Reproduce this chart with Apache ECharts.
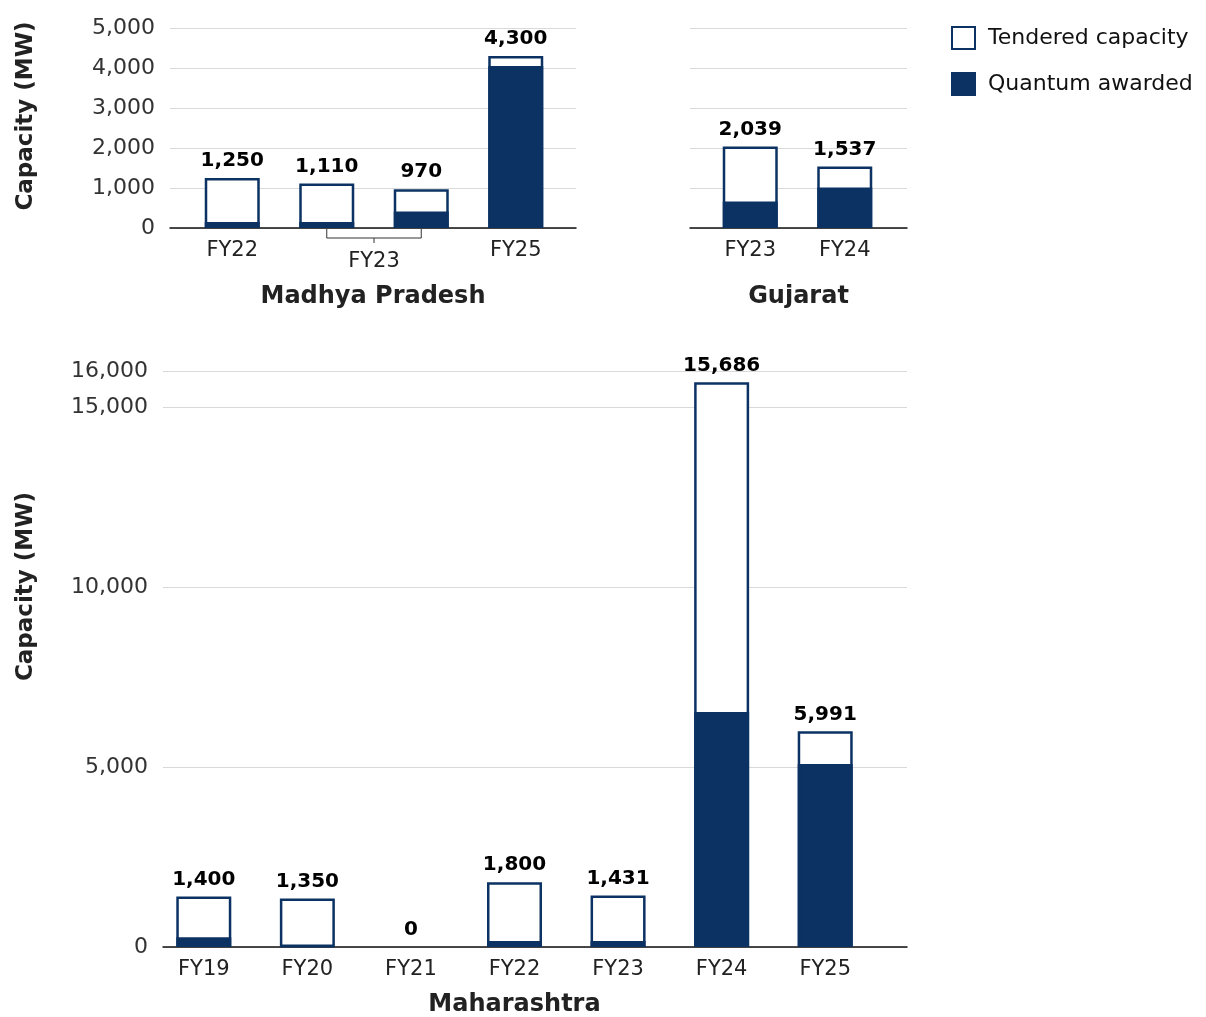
<!DOCTYPE html>
<html>
<head>
<meta charset="utf-8">
<script src="https://cdn.jsdelivr.net/npm/echarts@6/dist/echarts.min.js"></script>
<style>
  html, body { margin: 0; padding: 0; background: #fff; }
  #chart { width: 1206px; height: 1017px; }
</style>
</head>
<body>
<div id="chart"></div>
<script>
  // Madhya Pradesh
  const mpCategories = ['FY22', 'FY23', 'FY23', 'FY25'];
  const mpTendered = [1250, 1110, 970, 4300];
  const mpAwarded = [150, 150, 410, 4050];
  const mpGroups = [[1, 2]]; // FY23 bracket spans categories 1..2

  // Gujarat
  const gjCategories = ['FY23', 'FY24'];
  const gjTendered = [2039, 1537];
  const gjAwarded = [660, 1010];

  // Maharashtra
  const mhCategories = ['FY19', 'FY20', 'FY21', 'FY22', 'FY23', 'FY24', 'FY25'];
  const mhTendered = [1400, 1350, 0, 1800, 1431, 15686, 5991];
  const mhAwarded = [270, 40, 0, 170, 170, 6530, 5080];

  const NAVY = '#0b3263';
  const FONT = 'DejaVu Sans';

  const chart = echarts.init(document.getElementById('chart'));

  const fmt = (v) => Number(v).toLocaleString('en-US');
  const zeroFree = (arr) => arr.map((v) => (v === 0 ? { value: 0, itemStyle: { borderWidth: 0 } } : v));

  const bgX = (gridIndex, name, nameGap) => ({
    type: 'value',
    gridIndex,
    min: 0,
    max: 1,
    name,
    nameLocation: 'middle',
    nameGap,
    nameTextStyle: { fontFamily: FONT, fontSize: 24, fontWeight: 'bold', color: '#222' },
    axisLine: { show: true, lineStyle: { color: '#111', width: 1.5 } },
    axisTick: { show: false },
    axisLabel: { show: false },
    splitLine: { show: false },
  });

  const bgY = (gridIndex, max, interval, showLabels, titlePad, titleGap) => ({
    type: 'value',
    gridIndex,
    min: 0,
    max,
    interval,
    name: showLabels ? 'Capacity (MW)' : '',
    nameLocation: 'middle',
    nameGap: titleGap,
    nameTextStyle: {
      fontFamily: FONT, fontSize: 23, fontWeight: 'bold', color: '#222',
      padding: [0, 0, 0, titlePad],
    },
    axisLine: { show: false },
    axisTick: { show: false },
    axisLabel: {
      show: showLabels,
      margin: 15,
      fontFamily: FONT,
      fontSize: 22,
      color: '#333',
      formatter: (v) => fmt(v),
    },
    splitLine: { show: true, lineStyle: { color: '#d9d9d9', width: 1 } },
  });

  const barX = (gridIndex, data, hide) => ({
    type: 'category',
    gridIndex,
    data,
    axisLine: { show: false },
    axisTick: { show: false },
    axisLabel: {
      margin: 12,
      fontFamily: FONT,
      fontSize: 21,
      color: '#222',
      interval: 0,
      formatter: (v, i) => (hide && hide.includes(i) ? '' : v),
    },
  });

  const barY = (gridIndex, max) => ({ type: 'value', gridIndex, min: 0, max, show: false });

  const tenderedSeries = (axisIndex, data) => ({
    name: 'Tendered capacity',
    type: 'bar',
    xAxisIndex: axisIndex,
    yAxisIndex: axisIndex,
    data: zeroFree(data),
    barWidth: 55,
    itemStyle: { color: '#fff', borderColor: NAVY, borderWidth: 2.5 },
    label: {
      show: true,
      position: 'top',
      distance: 7,
      fontFamily: FONT,
      fontSize: 20,
      fontWeight: 'bold',
      color: '#000',
      formatter: (p) => fmt(p.value),
    },
    z: 2,
  });

  const awardedSeries = (axisIndex, data) => ({
    name: 'Quantum awarded',
    type: 'bar',
    xAxisIndex: axisIndex,
    yAxisIndex: axisIndex,
    data: zeroFree(data),
    barWidth: 55,
    barGap: '-100%',
    itemStyle: { color: NAVY, borderColor: NAVY, borderWidth: 2.5 },
    z: 3,
  });

  const box = (left, top, width, height) => ({
    left, top, width, height, containLabel: false, outerBoundsMode: 'none',
  });

  chart.setOption({
    backgroundColor: '#fff',
    animation: false,
    legend: {
      data: ['Tendered capacity', 'Quantum awarded'],
      orient: 'vertical',
      left: 946,
      top: 21,
      icon: 'rect',
      itemWidth: 23,
      itemHeight: 22,
      itemGap: 22,
      textStyle: { fontFamily: FONT, fontSize: 22, color: '#111', padding: [0, 0, 0, 8] },
    },
    grid: [
      box(170, 28, 406, 200),   // MP background
      box(185, 28, 378, 200),   // MP bars
      box(690, 28, 217, 200),   // GJ background
      box(703, 28, 189, 200),   // GJ bars
      box(163, 371, 744, 576),  // MH background
      box(152, 371, 725, 576),  // MH bars
    ],
    xAxis: [
      bgX(0, 'Madhya Pradesh', 57),
      barX(1, mpCategories, [1, 2]),
      bgX(2, 'Gujarat', 57),
      barX(3, gjCategories),
      bgX(4, '', 0),
      Object.assign(barX(5, mhCategories), {
        name: 'Maharashtra',
        nameLocation: 'middle',
        nameGap: 46,
        nameTextStyle: { fontFamily: FONT, fontSize: 24, fontWeight: 'bold', color: '#222' },
      }),
    ],
    yAxis: [
      bgY(0, 5000, 1000, true, 24, 132),
      barY(1, 5000),
      bgY(2, 5000, 1000, false, 0, 0),
      barY(3, 5000),
      bgY(4, 16000, 5000, true, 145, 125),
      barY(5, 16000),
    ],
    series: [
      tenderedSeries(1, mpTendered),
      awardedSeries(1, mpAwarded),
      tenderedSeries(3, gjTendered),
      awardedSeries(3, gjAwarded),
      tenderedSeries(5, mhTendered),
      awardedSeries(5, mhAwarded),
      {
        type: 'custom',
        xAxisIndex: 1,
        yAxisIndex: 1,
        data: mpGroups,
        clip: false,
        silent: true,
        renderItem: (params, api) => {
          const a = api.coord([api.value(0), 0]);
          const b = api.coord([api.value(1), 0]);
          const mid = (a[0] + b[0]) / 2;
          const y = a[1];
          return {
            type: 'group',
            children: [
              {
                type: 'polyline',
                shape: { points: [[a[0], y + 1], [a[0], y + 10], [b[0], y + 10], [b[0], y + 1]] },
                style: { stroke: '#333', lineWidth: 1, fill: null },
              },
              {
                type: 'line',
                shape: { x1: mid, y1: y + 10, x2: mid, y2: y + 15 },
                style: { stroke: '#333', lineWidth: 1 },
              },
              {
                type: 'text',
                style: {
                  text: mpCategories[api.value(0)],
                  x: mid,
                  y: y + 34,
                  align: 'center',
                  verticalAlign: 'middle',
                  fontFamily: FONT,
                  fontSize: 21,
                  fill: '#222',
                },
              },
            ],
          };
        },
      },
    ],
  });
</script>
</body>
</html>
